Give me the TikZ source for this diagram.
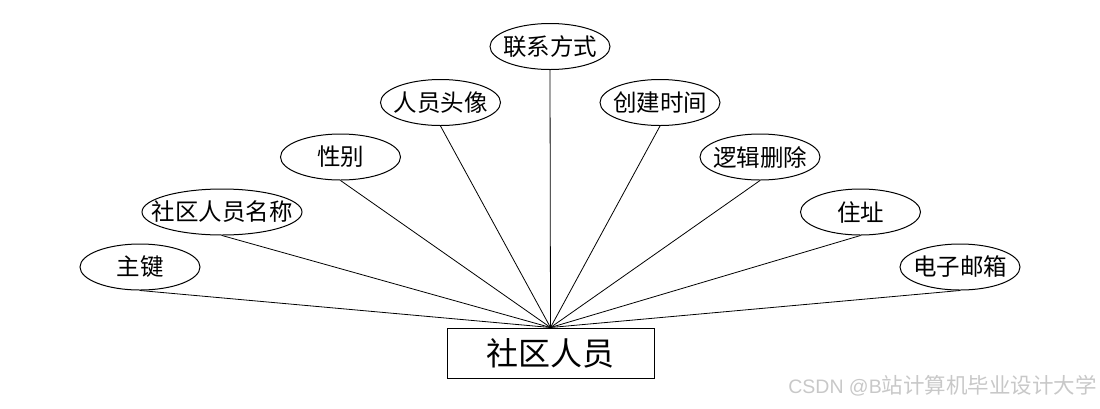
\documentclass[tikz,border=0pt]{standalone}
\usepackage{fontspec}
\setmainfont{Noto Sans CJK SC}
\newfontfamily\latinwm{Liberation Sans}
\usetikzlibrary{shapes.geometric}
\definecolor{wm}{RGB}{200,200,200}
\begin{document}
\begin{tikzpicture}[x=1pt,y=-1pt,
  attr/.style={ellipse, draw, line width=1pt, minimum width=120pt, minimum height=46pt, inner sep=0pt},
  wideattr/.style={attr, minimum width=160pt},
  every label/.style={font=\fontsize{23.5}{26}\selectfont, inner sep=0pt},
  entity/.style={rectangle, draw, line width=1pt, minimum width=207pt, minimum height=50pt, inner sep=0pt, font=\fontsize{32}{36}\selectfont},
  conn/.style={line width=0.8pt}]
\useasboundingbox (0,0) rectangle (1100,408);
\node[entity] (e) at (550.5,353) {社区人员};
\node[attr, label=center:{主键}] (a1) at (140,267) {};
\node[wideattr, label=center:{社区人员名称}] (a2) at (222,212) {};
\node[attr, label=center:{性别}] (a3) at (340.5,157) {};
\node[attr, label=center:{人员头像}] (a4) at (440.5,102.5) {};
\node[attr, label=center:{联系方式}] (a5) at (550,46.5) {};
\node[attr, label=center:{创建时间}] (a6) at (660,102.5) {};
\node[attr, label=center:{逻辑删除}] (a7) at (760,157) {};
\node[attr, label=center:{住址}] (a8) at (860.5,212) {};
\node[attr, label=center:{电子邮箱}] (a9) at (960,267) {};
\foreach \i in {1,...,9} \draw[conn] (a\i.south) -- (e.north);
\node[anchor=east, text=wm, font=\fontsize{21.5}{24}\selectfont, inner sep=0pt] (wmk) at (1097,386) {{\latinwm\fontsize{19.5}{24}\selectfont CSDN @B}站计算机毕业设计大学};
\end{tikzpicture}
\end{document}
